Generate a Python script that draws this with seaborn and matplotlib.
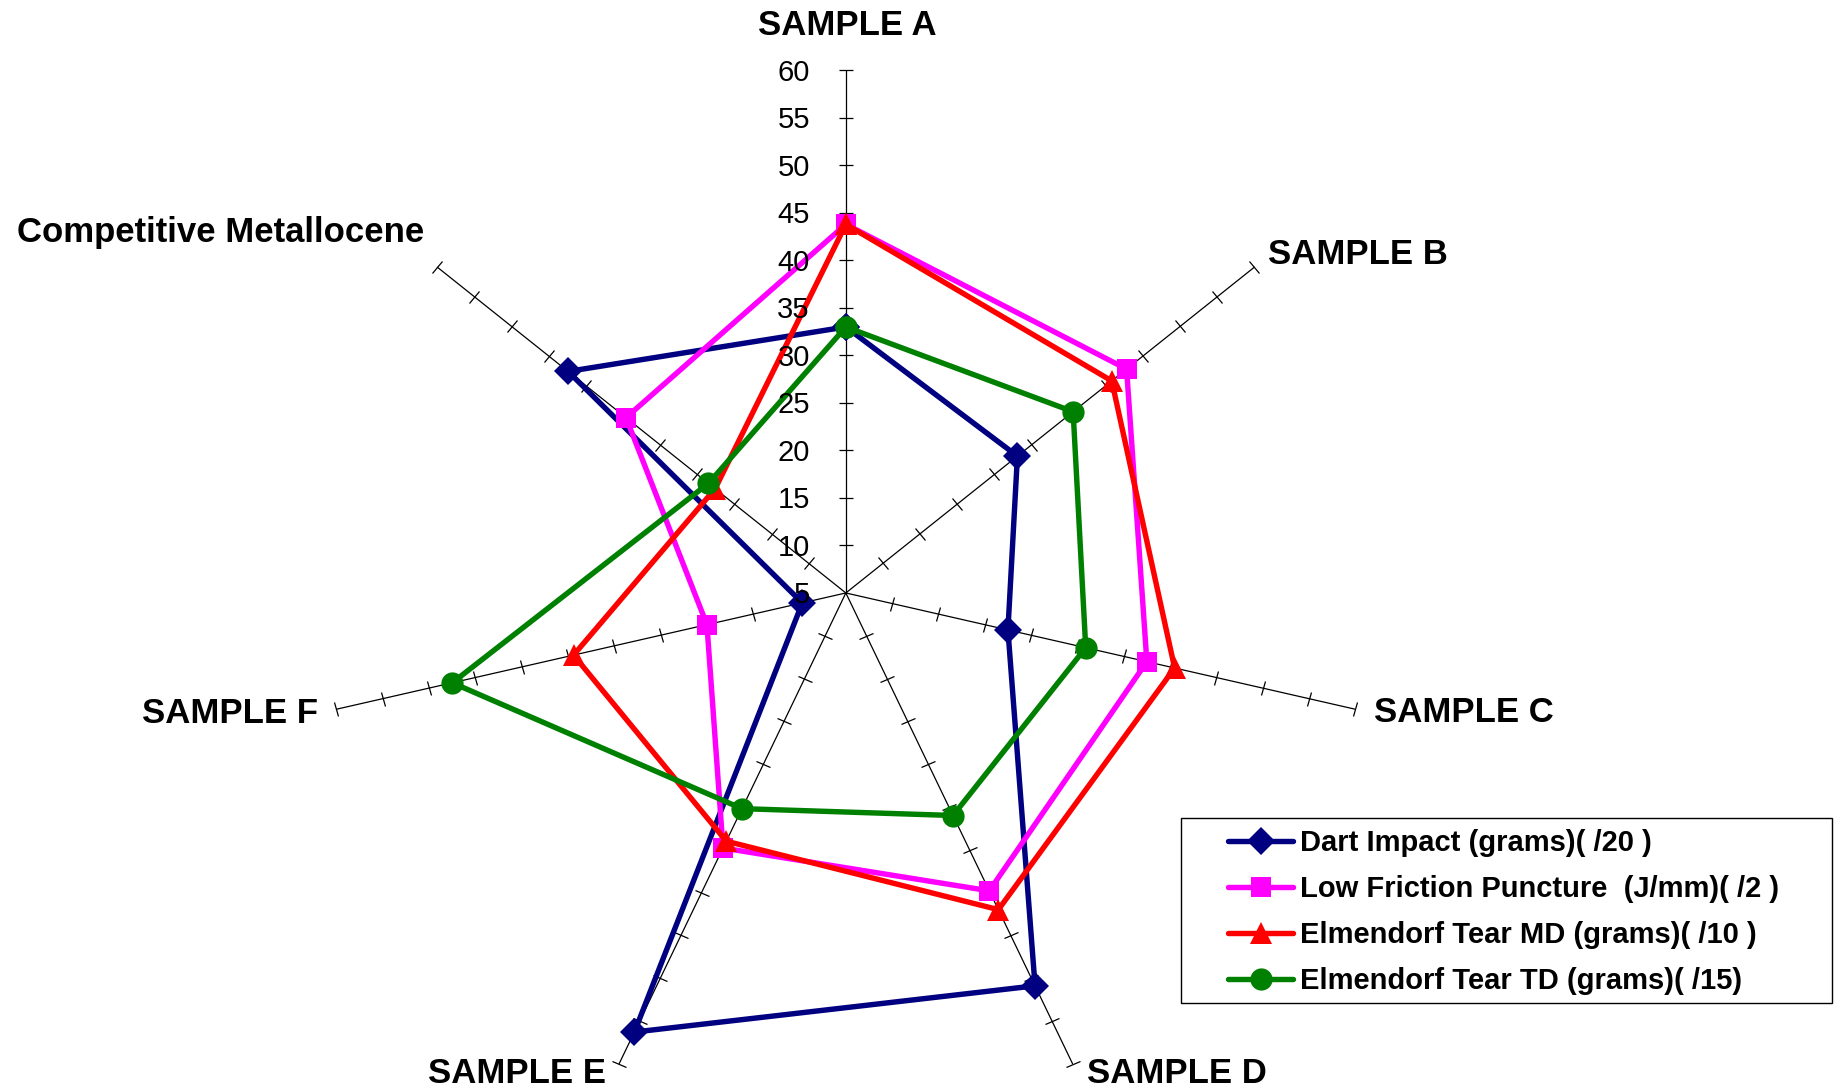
import numpy as np
import pandas as pd
import matplotlib
matplotlib.use("Agg")
import matplotlib.pyplot as plt
from matplotlib.markers import MarkerStyle
from matplotlib.transforms import Affine2D
from matplotlib.patches import Rectangle
import seaborn as sns

# Axis categories (clockwise from the top)
categories = ["SAMPLE A", "SAMPLE B", "SAMPLE C", "SAMPLE D",
              "SAMPLE E", "SAMPLE F", "Competitive Metallocene"]

# Scaled test results per sample
dart_impact = [33.0, 28.1, 22.5, 50.9, 56.3, 9.7, 42.4]
low_friction_puncture = [43.8, 42.8, 37.5, 39.8, 34.8, 20.0, 34.6]
tear_md = [43.8, 40.8, 40.5, 42.0, 34.0, 34.4, 22.6]
tear_td = [33.0, 35.6, 30.9, 31.0, 30.2, 47.5, 23.5]

series_names = ["Dart Impact (grams)( /20 )",
                "Low Friction Puncture  (J/mm)( /2 )",
                "Elmendorf Tear MD (grams)( /10 )",
                "Elmendorf Tear TD (grams)( /15)"]

radial_ticks = [5, 10, 15, 20, 25, 30, 35, 40, 45, 50, 55, 60]

sns.set_style("white")
plt.rcParams["font.family"] = ["Liberation Sans", "DejaVu Sans"]
plt.rcParams["text.color"] = "black"

fig = plt.figure(figsize=(18.37, 10.89), dpi=100)
ax = fig.add_axes([0.1760, -0.0243, 0.5689, 0.9596], projection="polar")
ax.set_theta_zero_location("N")
ax.set_theta_direction(-1)

n = len(categories)
theta = np.arange(n) * 2 * np.pi / n
theta_closed = np.append(theta, 2 * np.pi)

colors = ["#000080", "#FF00FF", "#FF0000", "#008000"]
markers = ["D", "s", "^", "o"]
msizes = [14.5, 15, 16, 16]
all_series = [dart_impact, low_friction_puncture, tear_md, tear_td]

handles = []
for name, vals, color, mk, ms in zip(series_names, all_series, colors, markers, msizes):
    df = pd.DataFrame({"theta": theta_closed, "value": list(vals) + [vals[0]]})
    sns.lineplot(data=df, x="theta", y="value", sort=False, estimator=None,
                 color=color, marker=mk, markersize=ms, markeredgecolor=color,
                 markeredgewidth=0, linewidth=3.9, ax=ax, legend=False, zorder=3)
    line = ax.lines[-1]
    line.set_label(name)
    handles.append(line)

# Spokes with perpendicular tick marks
for t in theta:
    ax.plot([t, t], [radial_ticks[0], radial_ticks[-1]], color="black",
            lw=0.9, clip_on=False, zorder=1)
    tick_marker = MarkerStyle("_", transform=Affine2D().rotate_deg(-np.degrees(t)))
    ax.plot([t] * (len(radial_ticks) - 1), radial_ticks[1:], linestyle="none",
            marker=tick_marker, markersize=10.5, markeredgewidth=0.9,
            color="black", clip_on=False, zorder=1)

ax.set_ylim(radial_ticks[0], radial_ticks[-1])
ax.grid(False)
ax.spines["polar"].set_visible(False)
ax.set_xticks([])
ax.set_yticks([])
ax.set_xlabel("")
ax.set_ylabel("")

# Radial value labels along the first spoke
for v in radial_ticks:
    ax.annotate(str(v), xy=(0, v), xytext=(-36, -10.4), textcoords="offset pixels",
                ha="right", va="baseline", fontsize=21, color="black",
                annotation_clip=False)

# Category labels at the spoke ends
label_offsets = [(1, 35.5, "center"), (14, 3, "left"), (19, -13, "left"),
                 (14, -19.6, "left"), (-13, -19.6, "right"), (-18, -14, "right"),
                 (-13, 25, "right")]
for t, cat, (dx, dy, ha) in zip(theta, categories, label_offsets):
    ax.annotate(cat, xy=(t, radial_ticks[-1]), xytext=(dx, dy),
                textcoords="offset pixels", ha=ha, va="baseline", color="black",
                fontsize=25, fontweight="bold", annotation_clip=False)

# Legend with a plain rectangular frame
leg = fig.legend(handles, series_names, loc="upper left",
                 bbox_to_anchor=(1228 / 1837, 1 - 829 / 1089),
                 frameon=False, borderpad=0, borderaxespad=0,
                 handlelength=2.23, handletextpad=0.24, labelspacing=0.62,
                 prop={"size": 21, "weight": "bold"})
for txt in leg.get_texts():
    txt.set_color("black")
fig.add_artist(Rectangle((1181 / 1837, 1 - 1003 / 1089), 651 / 1837, 185 / 1089,
                         transform=fig.transFigure, fill=False,
                         edgecolor="black", lw=1.0))

fig.savefig("out.png", dpi=100)
